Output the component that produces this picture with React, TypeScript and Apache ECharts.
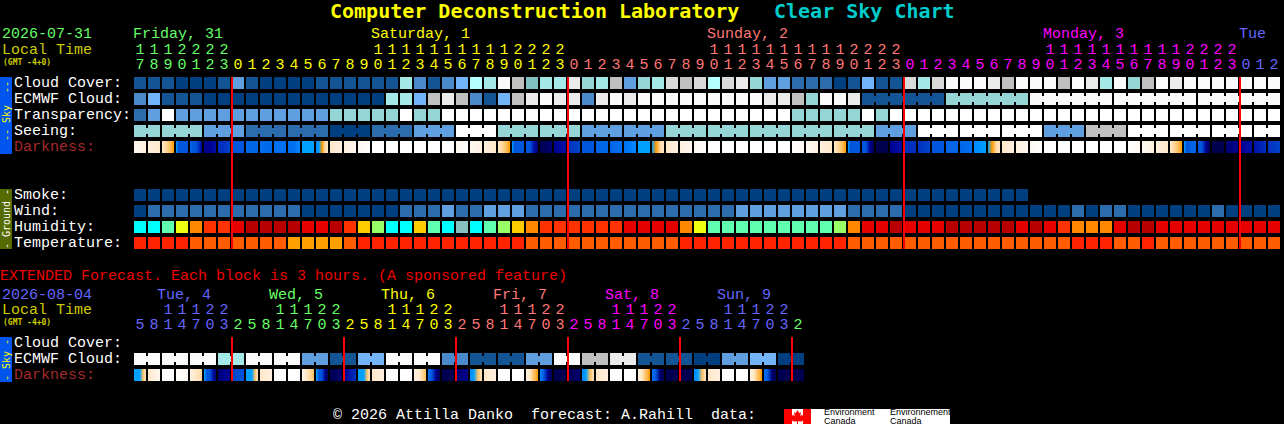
import React, { useEffect, useRef } from "react";
import * as echarts from "echarts";

const TITLE_FONT = '"DejaVu Sans Mono", monospace';
const FONT = '"Liberation Mono", "DejaVu Sans Mono", monospace';

const GREEN = "#66ff66";
const YELLOW = "#ffff00";
const SALMON = "#ff7777";
const MAGENTA = "#ff00ff";
const BLUE = "#6666ff";

const skyRamp = ["#003f7f", "#135494", "#2c6cac", "#4a8aca", "#5f9fdf", "#72b4fa", "#b3ffff", "#a5e8e8", "#95d5d5", "#80c0c0", "#c0c0c0", "#d9d9d9", "#ebebeb", "#fbfbfb", "#ffffff"];
const humidityRamp = ["#00ffff", "#88c0c0", "#5fffaf", "#99ff66", "#eeff11", "#ffcc00", "#ff8800", "#ff3300", "#e60000", "#b80000"];
const temperatureRamp = ["#ff2200", "#ff5c00", "#ffa000"];
const darkRamp = ["#000050", "#000070", "#000090", "#0010a8", "#0030c0", "#0045c8", "#0055dd", "#0066e6", "#0070f0", "#0088ff", "#00a0ff", "#ff9900", "#ffc060", "#ffd8a0", "#ffe8c8", "#fff0e0", "#fff8f0", "#ffffff"];

const mainHours = [17, 18, 19, 20, 21, 22, 23, 0, 1, 2, 3, 4, 5, 6, 7, 8, 9, 10, 11, 12, 13, 14, 15, 16, 17, 18, 19, 20, 21, 22, 23, 0, 1, 2, 3, 4, 5, 6, 7, 8, 9, 10, 11, 12, 13, 14, 15, 16, 17, 18, 19, 20, 21, 22, 23, 0, 1, 2, 3, 4, 5, 6, 7, 8, 9, 10, 11, 12, 13, 14, 15, 16, 17, 18, 19, 20, 21, 22, 23, 0, 1, 2];
const extHours = [5, 8, 11, 14, 17, 20, 23, 2, 5, 8, 11, 14, 17, 20, 23, 2, 5, 8, 11, 14, 17, 20, 23, 2, 5, 8, 11, 14, 17, 20, 23, 2, 5, 8, 11, 14, 17, 20, 23, 2, 5, 8, 11, 14, 17, 20, 23, 2];

const mainDays = [
  { label: "Friday, 31", at: 0, from: 0, color: GREEN },
  { label: "Saturday, 1", at: 17, from: 7, color: YELLOW },
  { label: "Sunday, 2", at: 41, from: 31, color: SALMON },
  { label: "Monday, 3", at: 65, from: 55, color: MAGENTA },
  { label: "Tue", at: 79, from: 79, color: BLUE },
];
const extDays = [
  { label: "Tue, 4", at: 2, from: 0, color: BLUE },
  { label: "Wed, 5", at: 10, from: 7, color: GREEN },
  { label: "Thu, 6", at: 18, from: 15, color: YELLOW },
  { label: "Fri, 7", at: 26, from: 23, color: SALMON },
  { label: "Sat, 8", at: 34, from: 31, color: MAGENTA },
  { label: "Sun, 9", at: 42, from: 39, color: BLUE },
  { label: "", at: 47, from: 47, color: GREEN },
];

const mainRowLabels = ["Cloud Cover:", "ECMWF Cloud:", "Transparency:", "Seeing:", "Darkness:", "", "", "Smoke:", "Wind:", "Humidity:", "Temperature:"];
const extRowLabels = ["Cloud Cover:", "ECMWF Cloud:", "Darkness:"];
const DARKNESS_LABEL = "#a52a2a";

const cloudCover = [1, 1, 1, 0, 0, 0, 1, 4, 1, 0, 0, 0, 0, 1, 1, 1, 1, 1, 1, 7, 3, 1, 3, 5, 6, 7, 13, 10, 9, 7, 7, 12, 8, 7, 10, 4, 8, 7, 11, 10, 11, 6, 11, 12, 8, 4, 4, 2, 2, 2, 0, 1, 5, 1, 1, 11, 7, 11, 13, 13, 13, 12, 10, 13, 13, 13, 10, 13, 12, 7, 13, 8, 10, 13, 12, 13, 13, 13, 13, 13, 13, 13];
const ecmwfCloud = [3, 5, 1, 1, 1, 0, 0, 0, 0, 0, 0, 0, 0, 0, 0, 0, 0, 0, 7, 7, 5, 10, 12, 10, 3, 1, 5, 10, 12, 13, 12, 12, 3, 12, 13, 12, 13, 13, 13, 13, 13, 13, 13, 13, 13, 12, 12, 10, 8, 13, 13, 12, 1, 1, 1, 1, 1, 1, 8, 8, 8, 8, 8, 8, 13, 13, 13, 13, 13, 13, 13, 13, 13, 13, 13, 13, 13, 13, 13, 13, 13, 13];
const ecmwfSpans = [1, 1, 1, 1, 1, 1, 1, 1, 1, 1, 1, 1, 1, 1, 1, 1, 1, 1, 1, 1, 1, 1, 1, 1, 1, 1, 1, 1, 1, 1, 1, 1, 1, 1, 1, 1, 1, 1, 1, 1, 1, 1, 1, 1, 1, 1, 1, 1, 1, 1, 1, 1, 6, 6, 6, 6, 6];
const transparency = [2, 4, 14, 4, 4, 4, 4, 4, 4, 4, 4, 4, 4, 4, 8, 8, 8, 8, 8, 14, 8, 8, 14, 14, 14, 14, 14, 14, 14, 14, 14, 14, 14, 14, 14, 14, 14, 14, 14, 14, 14, 14, 14, 14, 14, 14, 14, 8, 8, 8, 8, 8, 14, 8, 14, 14, 14, 14, 14, 14, 14, 14, 14, 14, 14, 14, 14, 14, 14, 14, 14, 14, 14, 14, 14, 14, 14, 14, 14, 14, 14, 14];
const seeing = [8, 8, 8, 8, 8, 4, 4, 4, 2, 2, 2, 2, 2, 2, 0, 0, 0, 2, 2, 2, 4, 4, 4, 14, 14, 14, 8, 8, 8, 8, 8, 8, 4, 4, 4, 4, 4, 4, 8, 8, 8, 8, 8, 8, 8, 8, 8, 8, 8, 8, 8, 8, 8, 4, 4, 4, 14, 14, 14, 14, 14, 14, 14, 14, 14, 4, 4, 4, 10, 10, 10, 14, 14, 14, 14, 14, 14, 14, 14, 14, 14, 14];
const seeingSpans = [2, 3, 3, 3, 3, 3, 3, 3, 3, 3, 3, 3, 3, 3, 3, 3, 3, 3, 3, 3, 3, 3, 3, 3, 3, 3, 3, 2];
const darkness = [
  [16, 15], [15, 14], [14, 13, 12, 11], [10, 6, 6, 6, 6, 6], [7, 6, 6, 4, 2], [2, 2, 3], [4, 4, 5], [6, 6], [7, 7], [8, 7], [8, 8], [8, 8, 9], [10, 10], [9, 10, 11, 13, 14], [14, 15], [15, 16], [16, 17],
  [17], [17], [17], [17], [17], [17], [16, 17], [16, 15], [15, 14], [14, 13, 12, 11], [10, 6, 6, 6, 6, 6], [6, 6, 3, 1], [0, 1], [2, 3], [4, 5], [6, 6], [7, 7], [7, 8], [8, 9], [10, 10], [10, 11, 13, 14], [14, 15], [15, 16], [16, 17],
  [17], [17], [17], [17], [17], [17], [17, 16], [16, 15], [15, 14], [14, 13, 12, 11], [10, 6, 6, 6, 6, 6], [6, 6, 2, 0], [0, 0], [2, 3], [4, 4], [4, 5], [6, 6], [7, 7], [7, 8], [9, 10], [10, 11, 13, 14], [14, 15], [15, 16], [16, 17],
  [17], [17], [17], [17], [17], [17], [17, 16], [16, 15], [15, 14], [14, 13, 12, 11], [10, 6, 6, 7, 7, 7], [6, 6, 2, 0], [0, 0], [1, 2], [2, 3], [3, 4], [4, 5],
];
const smoke = [0, 0, 0, 0, 0, 0, 0, 0, 0, 0, 0, 0, 0, 0, 0, 0, 0, 0, 0, 0, 0, 0, 0, 0, 0, 0, 0, 0, 0, 0, 0, 0, 0, 0, 0, 0, 0, 0, 0, 0, 0, 0, 0, 0, 0, 0, 0, 0, 0, 0, 0, 0, 0, 0, 0, 0, 0, 0, 0, 0, 0, 0, 0, 0];
const wind = [0, 2, 2, 2, 2, 2, 2, 2, 2, 2, 2, 2, 0, 0, 0, 0, 0, 0, 0, 2, 2, 2, 4, 2, 2, 4, 4, 4, 2, 2, 2, 2, 2, 2, 2, 2, 2, 2, 2, 2, 2, 2, 2, 4, 4, 4, 4, 4, 4, 4, 4, 2, 2, 2, 2, 0, 0, 0, 0, 0, 0, 0, 0, 0, 0, 0, 0, 2, 0, 2, 2, 0, 0, 0, 0, 0, 0, 2, 0, 0, 0, 0];
const humidity = [0, 0, 2, 4, 6, 7, 7, 8, 9, 9, 9, 9, 8, 8, 9, 7, 5, 3, 0, 0, 5, 2, 0, 1, 0, 2, 3, 5, 6, 7, 7, 7, 7, 7, 7, 8, 8, 8, 8, 6, 4, 2, 2, 2, 2, 2, 2, 2, 2, 2, 3, 6, 8, 8, 9, 8, 8, 8, 9, 9, 9, 9, 9, 8, 9, 8, 7, 6, 6, 6, 8, 9, 9, 8, 8, 8, 8, 8, 8, 8, 8, 8];
const temperature = [0, 0, 0, 0, 1, 1, 1, 1, 1, 1, 1, 2, 2, 2, 2, 1, 0, 0, 0, 0, 0, 0, 0, 0, 0, 0, 0, 0, 1, 1, 1, 1, 1, 1, 1, 1, 1, 1, 1, 0, 0, 0, 0, 0, 0, 0, 0, 0, 0, 0, 0, 1, 1, 1, 1, 1, 1, 1, 1, 1, 1, 1, 1, 1, 1, 1, 1, 0, 0, 0, 1, 1, 0, 1, 1, 1, 1, 1, 1, 1, 1, 1];

const extEcmwf = [13, 13, 13, 13, 13, 13, 7, 7, 13, 13, 13, 13, 4, 4, 1, 1, 5, 5, 13, 13, 13, 13, 3, 3, 1, 1, 1, 1, 4, 4, 13, 13, 10, 10, 12, 12, 1, 1, 1, 1, 0, 0, 4, 4, 5, 5, 0, 0];
const extSpans = [2, 2, 2, 2, 2, 2, 2, 2, 2, 2, 2, 2, 2, 2, 2, 2, 2, 2, 2, 2, 2, 2, 2, 2];
const extDarkness = [
  [10, 10, 10, 12, 14], [14, 15, 16], [17], [17, 16], [15, 14, 13], [10, 6, 6, 3, 1], [1, 2, 2], [5, 6],
  [10, 10, 10, 12, 14], [14, 15], [17], [17], [16, 14, 13, 12], [10, 6, 6, 2, 0], [0, 1], [2, 4],
  [10, 10, 10, 12, 14], [14, 15], [17], [17], [15, 14, 12], [8, 6, 2, 0], [0, 0], [1, 2],
  [9, 10, 12, 14], [14, 15], [17], [17], [15, 14, 12, 11], [9, 6, 2, 0], [0, 0], [0, 1],
  [9, 10, 12, 14], [14, 15], [17], [17], [15, 14, 12, 11], [8, 6, 1, 0], [0, 0], [0, 0],
  [9, 10, 12, 14], [14, 15], [17], [17], [15, 14, 12, 11], [8, 6, 1, 0], [0, 0], [0, 0],
];

const mainMidnights = [7, 31, 55, 79];
const extMidnights = [7, 15, 23, 31, 39, 47];

type Cell = { x: number; y: number; colors: string[]; bridge: boolean };

function spanBridges(spans: number[] | null, n: number): boolean[] {
  const out: boolean[] = new Array(n).fill(false);
  if (!spans) return out;
  let at = 0;
  spans.forEach((s) => {
    for (let i = 0; i < s - 1; i++) out[at + i] = true;
    at += s;
  });
  return out;
}

function flatRow(y: number, values: number[], ramp: string[], spans: number[] | null = null): Cell[] {
  const bridges = spanBridges(spans, values.length);
  return values.map((v, x) => ({ x, y, colors: [ramp[v]], bridge: bridges[x] }));
}

function gradRow(y: number, values: number[][], ramp: string[]): Cell[] {
  return values.map((v, x) => ({ x, y, colors: v.map((k) => ramp[k]), bridge: false }));
}

const mainCells: Cell[] = [
  ...flatRow(0, cloudCover, skyRamp),
  ...flatRow(1, ecmwfCloud, skyRamp, ecmwfSpans),
  ...flatRow(2, transparency, skyRamp),
  ...flatRow(3, seeing, skyRamp, seeingSpans),
  ...gradRow(4, darkness, darkRamp),
  ...flatRow(7, smoke, skyRamp),
  ...flatRow(8, wind, skyRamp),
  ...flatRow(9, humidity, humidityRamp),
  ...flatRow(10, temperature, temperatureRamp),
];
const extCells: Cell[] = [
  ...flatRow(1, extEcmwf, skyRamp, extSpans),
  ...gradRow(2, extDarkness, darkRamp),
];

function colorAt(days: { from: number; color: string }[], i: number): string {
  let c = days[0].color;
  days.forEach((d) => {
    if (i >= d.from) c = d.color;
  });
  return c;
}

function hourAxis(
  gridIndex: number,
  hours: number[],
  days: { from: number; color: string }[],
  tens: boolean,
) {
  return {
    type: "category",
    gridIndex,
    position: "top",
    offset: tens ? 15 : 0,
    boundaryGap: true,
    axisLine: { show: false },
    axisTick: { show: false },
    splitLine: { show: false },
    axisLabel: {
      show: true,
      interval: 0,
      margin: 10,
      fontFamily: FONT,
      fontSize: 15,
      hideOverlap: false,
    },
    data: hours.map((h, i) => ({
      value: tens ? (h >= 10 ? String(Math.floor(h / 10)) : " ") : String(h % 10),
      textStyle: { color: colorAt(days, i), verticalAlign: "middle", align: "center" },
    })),
  };
}

function rowAxis(gridIndex: number, labels: string[]) {
  return {
    type: "category",
    gridIndex,
    inverse: true,
    axisLine: { show: false },
    axisTick: { show: false },
    splitLine: { show: false },
    axisLabel: {
      show: true,
      interval: 0,
      margin: 119,
      fontFamily: FONT,
      fontSize: 15,
      color: "#ffffff",
    },
    data: labels.map((l) => ({
      value: l === "" ? " " : l,
      textStyle: { color: l === "Darkness:" ? DARKNESS_LABEL : "#ffffff", align: "left", verticalAlign: "middle" },
    })),
  };
}

function cellRenderer(cells: Cell[]) {
  return (params: any, api: any) => {
    const c = cells[params.dataIndex];
    const p = api.coord([c.x, c.y]);
    const band = api.size([1, 1]);
    const w = band[0] - 2;
    const h = band[1] - 4;
    const left = p[0] - w / 2;
    const top = p[1] - h / 2;
    const fill =
      c.colors.length === 1
        ? c.colors[0]
        : new echarts.graphic.LinearGradient(
            0,
            0,
            1,
            0,
            c.colors.map((color, i) => ({ offset: i / (c.colors.length - 1), color })),
          );
    const children: any[] = [
      { type: "rect", shape: { x: left, y: top, width: w, height: h }, style: { fill } },
    ];
    if (c.bridge) {
      children.push({
        type: "rect",
        shape: { x: left + w, y: p[1] - 3, width: 2, height: 6 },
        style: { fill: c.colors[0] },
      });
    }
    return { type: "group", children };
  };
}

function midnightRenderer(firstRow: number, lastRow: number) {
  return (_params: any, api: any) => {
    const i = api.value(0);
    const a = api.coord([i, firstRow]);
    const b = api.coord([i, lastRow]);
    const band = api.size([1, 1]);
    return {
      type: "rect",
      shape: {
        x: a[0] - band[0] / 2,
        y: a[1] - band[1] / 2 + 2,
        width: 2,
        height: b[1] - a[1] + band[1] - 4,
      },
      style: { fill: "#ff0000" },
    };
  };
}

function dayRenderer(days: { label: string; at: number; color: string }[], dx: number) {
  return (params: any, api: any) => {
    const d = days[params.dataIndex];
    const p = api.coord([d.at, 0]);
    return {
      type: "text",
      x: p[0] - 7 + dx,
      y: p[1] - (params.seriesName === "mainDays" ? 49 : 48),
      style: {
        text: d.label,
        fill: d.color,
        fontFamily: FONT,
        fontSize: 15,
        align: "left",
        verticalAlign: "middle",
      },
    };
  };
}

function text(x: number, y: number, s: string, fill: string, fontSize = 15, fontWeight = "normal", family = FONT) {
  return {
    type: "text",
    x,
    y,
    silent: true,
    style: { text: s, fill, fontFamily: family, fontSize, fontWeight, align: "left", verticalAlign: "middle" },
  };
}

function sideBar(top: number, height: number, fill: string, label: string, color: string, center: number) {
  return [
    { type: "rect", silent: true, shape: { x: 0, y: top, width: 12, height }, style: { fill } },
    {
      type: "text",
      silent: true,
      x: 6,
      y: center,
      rotation: Math.PI / 2,
      style: { text: label, fill: color, fontFamily: TITLE_FONT, fontSize: 10, align: "center", verticalAlign: "middle" },
    },
  ];
}

const leafPoints = [
  [13.5, 1], [15.2, 4], [17, 3.2], [16.2, 7.2], [18.2, 5.5], [18.8, 7], [21, 6.6], [20.2, 9.2], [21.2, 9.8], [17.5, 12.6], [14, 12.2], [14, 15], [13, 15], [13, 12.2], [9.5, 12.6], [5.8, 9.8], [6.8, 9.2], [6, 6.6], [8.2, 7], [8.8, 5.5], [10.8, 7.2], [10, 3.2], [11.8, 4],
];

const graphicElements: any[] = [
  text(330, 11, "Computer Deconstruction Laboratory", "#ffff00", 20, "bold", TITLE_FONT),
  text(774, 11, "Clear Sky Chart", "#00cccc", 20, "bold", TITLE_FONT),
  text(2, 34, "2026-07-31", GREEN),
  text(2, 50, "Local Time", "#cccc00"),
  text(3, 62, "(GMT -4+0)", "#cccc00", 8, "bold", TITLE_FONT),
  text(2, 295, "2026-08-04", BLUE),
  text(2, 310, "Local Time", "#cccc00"),
  text(3, 322, "(GMT -4+0)", "#cccc00", 8, "bold", TITLE_FONT),
  text(0, 276, "EXTENDED Forecast. Each block is 3 hours. (A sponsored feature)", "#ee0000"),
  text(333, 415, "© 2026 Attilla Danko  forecast: A.Rahill  data:", "#ffffff"),
  ...sideBar(77, 77, "#0055ee", "-- Sky  --", "#ffff00", 111),
  ...sideBar(189, 60, "#556b00", "- Ground -", "#ffffff", 219),
  ...sideBar(337, 45, "#0055ee", "- Sky -", "#ffff00", 360),
  {
    type: "group",
    x: 784,
    y: 409,
    silent: true,
    children: [
      { type: "rect", shape: { x: 0, y: 0, width: 166, height: 15 }, style: { fill: "#ffffff" } },
      { type: "rect", shape: { x: 0, y: 0, width: 8, height: 15 }, style: { fill: "#ff0000" } },
      { type: "rect", shape: { x: 19, y: 0, width: 8, height: 15 }, style: { fill: "#ff0000" } },
      { type: "polygon", shape: { points: leafPoints }, style: { fill: "#ff0000" } },
      text(40, 3, "Environment", "#000000", 9, "normal", '"Liberation Sans", sans-serif'),
      text(40, 11.5, "Canada", "#000000", 9, "normal", '"Liberation Sans", sans-serif'),
      text(106, 3, "Environnement", "#000000", 9, "normal", '"Liberation Sans", sans-serif'),
      text(106, 11.5, "Canada", "#000000", 9, "normal", '"Liberation Sans", sans-serif'),
    ],
  },
];

const option: any = {
  animation: false,
  backgroundColor: "#000000",
  tooltip: { show: false },
  grid: [
    { left: 133, top: 75, width: 1148, height: 176, containLabel: false, outerBoundsMode: "none" },
    { left: 133, top: 335, width: 672, height: 48, containLabel: false, outerBoundsMode: "none" },
  ],
  xAxis: [
    hourAxis(0, mainHours, mainDays, false),
    hourAxis(0, mainHours, mainDays, true),
    hourAxis(1, extHours, extDays, false),
    hourAxis(1, extHours, extDays, true),
  ],
  yAxis: [rowAxis(0, mainRowLabels), rowAxis(1, extRowLabels)],
  graphic: graphicElements,
  series: [
    {
      name: "main",
      type: "custom",
      xAxisIndex: 0,
      yAxisIndex: 0,
      silent: true,
      renderItem: cellRenderer(mainCells),
      encode: { x: 0, y: 1 },
      data: mainCells.map((c) => [c.x, c.y]),
    },
    {
      name: "mainMidnights",
      type: "custom",
      xAxisIndex: 0,
      yAxisIndex: 0,
      silent: true,
      z: 5,
      renderItem: midnightRenderer(0, 10),
      encode: { x: 0, y: 1 },
      data: mainMidnights.map((i) => [i, 0]),
    },
    {
      name: "mainDays",
      type: "custom",
      xAxisIndex: 0,
      yAxisIndex: 0,
      silent: true,
      renderItem: dayRenderer(mainDays, 0),
      encode: { x: 0, y: 1 },
      data: mainDays.map((d) => [d.at, 0]),
    },
    {
      name: "ext",
      type: "custom",
      xAxisIndex: 2,
      yAxisIndex: 1,
      silent: true,
      renderItem: cellRenderer(extCells),
      encode: { x: 0, y: 1 },
      data: extCells.map((c) => [c.x, c.y]),
    },
    {
      name: "extMidnights",
      type: "custom",
      xAxisIndex: 2,
      yAxisIndex: 1,
      silent: true,
      z: 5,
      renderItem: midnightRenderer(0, 2),
      encode: { x: 0, y: 1 },
      data: extMidnights.map((i) => [i, 0]),
    },
    {
      name: "extDays",
      type: "custom",
      xAxisIndex: 2,
      yAxisIndex: 1,
      silent: true,
      renderItem: dayRenderer(extDays, -4),
      encode: { x: 0, y: 1 },
      data: extDays.map((d) => [d.at, 0]),
    },
  ],
};

export default function App() {
  const ref = useRef<HTMLDivElement>(null);
  useEffect(() => {
    document.body.style.margin = "0";
    document.body.style.background = "#000";
    const chart = echarts.init(ref.current!, undefined, { renderer: "svg" });
    chart.setOption(option);
    return () => chart.dispose();
  }, []);
  return <div ref={ref} style={{ width: 1284, height: 424 }} />;
}
